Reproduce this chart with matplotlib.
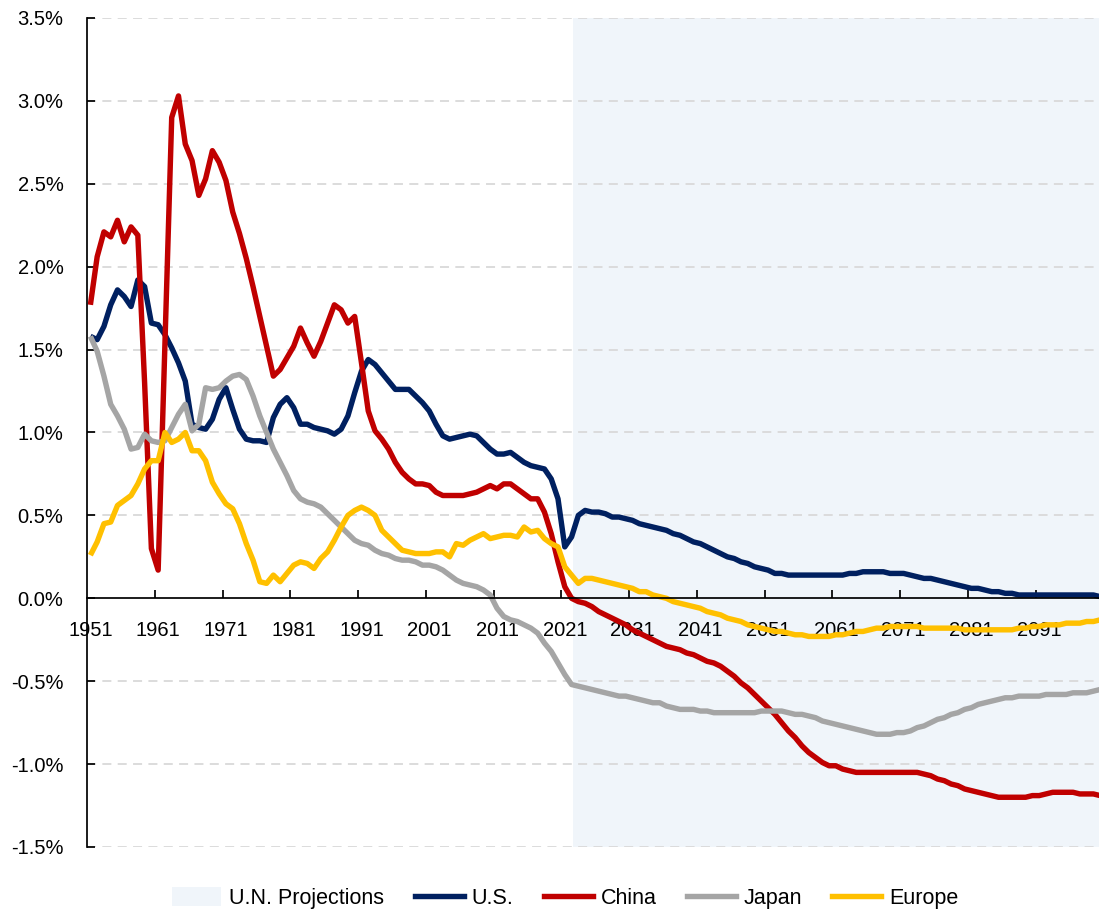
import matplotlib
matplotlib.use('Agg')
import matplotlib.pyplot as plt
import numpy as np
from matplotlib.patches import Patch
from matplotlib.lines import Line2D
from matplotlib.ticker import FuncFormatter

plt.rcParams['font.family'] = ['Liberation Sans', 'DejaVu Sans']

years = np.arange(1951, 2101)
proj_start = 2022.2

us = [
    1.58, 1.56, 1.64, 1.77, 1.86, 1.82, 1.76, 1.92, 1.88, 1.66,
    1.65, 1.59, 1.51, 1.42, 1.31, 1.05, 1.03, 1.02, 1.08, 1.20,
    1.27, 1.14, 1.02, 0.96, 0.95, 0.95, 0.94, 1.09, 1.17, 1.21,
    1.15, 1.05, 1.05, 1.03, 1.02, 1.01, 0.99, 1.02, 1.10, 1.24,
    1.37, 1.44, 1.41, 1.36, 1.31, 1.26, 1.26, 1.26, 1.22, 1.18,
    1.13, 1.05, 0.98, 0.96, 0.97, 0.98, 0.99, 0.98, 0.94, 0.90,
    0.87, 0.87, 0.88, 0.85, 0.82, 0.80, 0.79, 0.78, 0.72, 0.60,
    0.31, 0.37, 0.50, 0.53, 0.52, 0.52, 0.51, 0.49, 0.49, 0.48,
    0.47, 0.45, 0.44, 0.43, 0.42, 0.41, 0.39, 0.38, 0.36, 0.34,
    0.33, 0.31, 0.29, 0.27, 0.25, 0.24, 0.22, 0.21, 0.19, 0.18,
    0.17, 0.15, 0.15, 0.14, 0.14, 0.14, 0.14, 0.14, 0.14, 0.14,
    0.14, 0.14, 0.15, 0.15, 0.16, 0.16, 0.16, 0.16, 0.15, 0.15,
    0.15, 0.14, 0.13, 0.12, 0.12, 0.11, 0.10, 0.09, 0.08, 0.07,
    0.06, 0.06, 0.05, 0.04, 0.04, 0.03, 0.03, 0.02, 0.02, 0.02,
    0.02, 0.02, 0.02, 0.02, 0.02, 0.02, 0.02, 0.02, 0.02, 0.01]

china = [
    1.77, 2.06, 2.21, 2.18, 2.28, 2.15, 2.24, 2.19, 1.30, 0.30,
    0.17, 1.53, 2.90, 3.03, 2.74, 2.64, 2.43, 2.53, 2.70, 2.63,
    2.52, 2.33, 2.20, 2.05, 1.88, 1.70, 1.52, 1.34, 1.38, 1.45,
    1.52, 1.63, 1.54, 1.46, 1.55, 1.66, 1.77, 1.74, 1.66, 1.70,
    1.42, 1.13, 1.01, 0.96, 0.90, 0.82, 0.76, 0.72, 0.69, 0.69,
    0.68, 0.64, 0.62, 0.62, 0.62, 0.62, 0.63, 0.64, 0.66, 0.68,
    0.66, 0.69, 0.69, 0.66, 0.63, 0.60, 0.60, 0.52, 0.39, 0.22,
    0.07, 0.00, -0.02, -0.03, -0.05, -0.08, -0.10, -0.12, -0.14, -0.16,
    -0.19, -0.21, -0.23, -0.25, -0.27, -0.29, -0.30, -0.31, -0.33, -0.34,
    -0.36, -0.38, -0.39, -0.41, -0.44, -0.47, -0.51, -0.54, -0.58, -0.62,
    -0.66, -0.70, -0.75, -0.80, -0.84, -0.89, -0.93, -0.96, -0.99, -1.01,
    -1.01, -1.03, -1.04, -1.05, -1.05, -1.05, -1.05, -1.05, -1.05, -1.05,
    -1.05, -1.05, -1.05, -1.06, -1.07, -1.09, -1.10, -1.12, -1.13, -1.15,
    -1.16, -1.17, -1.18, -1.19, -1.20, -1.20, -1.20, -1.20, -1.20, -1.19,
    -1.19, -1.18, -1.17, -1.17, -1.17, -1.17, -1.18, -1.18, -1.18, -1.19]

japan = [
    1.58, 1.49, 1.34, 1.17, 1.10, 1.02, 0.90, 0.91, 0.99, 0.95,
    0.94, 0.95, 1.03, 1.11, 1.17, 1.01, 1.05, 1.27, 1.26, 1.27,
    1.31, 1.34, 1.35, 1.32, 1.22, 1.10, 1.00, 0.90, 0.82, 0.74,
    0.65, 0.60, 0.58, 0.57, 0.55, 0.51, 0.47, 0.43, 0.39, 0.35,
    0.33, 0.32, 0.29, 0.27, 0.26, 0.24, 0.23, 0.23, 0.22, 0.20,
    0.20, 0.19, 0.17, 0.14, 0.11, 0.09, 0.08, 0.07, 0.05, 0.02,
    -0.06, -0.11, -0.13, -0.14, -0.16, -0.18, -0.21, -0.27, -0.32, -0.39,
    -0.46, -0.52, -0.53, -0.54, -0.55, -0.56, -0.57, -0.58, -0.59, -0.59,
    -0.60, -0.61, -0.62, -0.63, -0.63, -0.65, -0.66, -0.67, -0.67, -0.67,
    -0.68, -0.68, -0.69, -0.69, -0.69, -0.69, -0.69, -0.69, -0.69, -0.68,
    -0.68, -0.68, -0.68, -0.69, -0.70, -0.70, -0.71, -0.72, -0.74, -0.75,
    -0.76, -0.77, -0.78, -0.79, -0.80, -0.81, -0.82, -0.82, -0.82, -0.81,
    -0.81, -0.80, -0.78, -0.77, -0.75, -0.73, -0.72, -0.70, -0.69, -0.67,
    -0.66, -0.64, -0.63, -0.62, -0.61, -0.60, -0.60, -0.59, -0.59, -0.59,
    -0.59, -0.58, -0.58, -0.58, -0.58, -0.57, -0.57, -0.57, -0.56, -0.55]

europe = [
    0.26, 0.34, 0.45, 0.46, 0.56, 0.59, 0.62, 0.69, 0.78, 0.83,
    0.83, 1.00, 0.94, 0.96, 1.00, 0.89, 0.89, 0.83, 0.70, 0.63,
    0.57, 0.54, 0.45, 0.33, 0.23, 0.10, 0.09, 0.14, 0.10, 0.15,
    0.20, 0.22, 0.21, 0.18, 0.24, 0.28, 0.35, 0.43, 0.50, 0.53,
    0.55, 0.53, 0.50, 0.41, 0.37, 0.33, 0.29, 0.28, 0.27, 0.27,
    0.27, 0.28, 0.28, 0.25, 0.33, 0.32, 0.35, 0.37, 0.39, 0.36,
    0.37, 0.38, 0.38, 0.37, 0.43, 0.40, 0.41, 0.36, 0.33, 0.31,
    0.19, 0.14, 0.09, 0.12, 0.12, 0.11, 0.10, 0.09, 0.08, 0.07,
    0.06, 0.04, 0.04, 0.02, 0.01, 0.00, -0.02, -0.03, -0.04, -0.05,
    -0.06, -0.08, -0.09, -0.10, -0.12, -0.13, -0.14, -0.16, -0.17, -0.18,
    -0.19, -0.20, -0.20, -0.21, -0.22, -0.22, -0.23, -0.23, -0.23, -0.23,
    -0.22, -0.22, -0.21, -0.20, -0.20, -0.19, -0.18, -0.18, -0.17, -0.17,
    -0.17, -0.17, -0.17, -0.18, -0.18, -0.18, -0.18, -0.18, -0.18, -0.19,
    -0.19, -0.19, -0.19, -0.19, -0.19, -0.19, -0.19, -0.18, -0.18, -0.17,
    -0.17, -0.16, -0.16, -0.16, -0.15, -0.15, -0.15, -0.14, -0.14, -0.13]

series = [(us, '#002060', 'U.S.'), (china, '#C00000', 'China'),
          (japan, '#A5A5A5', 'Japan'), (europe, '#FFC000', 'Europe')]
shade = '#F0F5FA'

fig = plt.figure(figsize=(10.99, 9.13), dpi=100)
ax = fig.add_axes([87/1099, 1-847/913, 1-87/1099, (847-18)/913])

ax.axvspan(proj_start, 2101, color=shade, lw=0, zorder=0)

ax.set_ylim(-1.5, 3.5)
yt = np.arange(-1.5, 3.51, 0.5)
ax.set_yticks(yt)
ax.yaxis.set_major_formatter(FuncFormatter(lambda v, p: f'{v:.1f}%'))
for y in yt:
    if abs(y) > 1e-9:
        ax.axhline(y, color='#D9D9D9', lw=1.3, ls=(0, (5, 3.5)), zorder=0.5)

for vals, c, lab in series:
    ax.plot(years, vals, color=c, lw=3.9, solid_joinstyle='round',
            solid_capstyle='butt', zorder=2)

ax.set_xlim(1950.5, 1950.5 + (1099-87.3)/6.775)
ax.set_xticks(np.arange(1960.5, 2100, 10))
ax.set_xticklabels([])
ax.set_xticks(np.arange(1951, 2100, 10), minor=True)
ax.set_xticklabels([str(y) for y in range(1951, 2100, 10)], minor=True)
ax.tick_params(axis='x', which='major', direction='in', length=6, width=1.25)
ax.tick_params(axis='x', which='minor', length=0, pad=16, labelsize=14.5)
ax.tick_params(axis='y', direction='in', length=6, width=1.25, pad=17, labelsize=14.5)

ax.spines['bottom'].set_position(('data', 0))
ax.spines['bottom'].set_linewidth(1.25)
ax.spines['left'].set_linewidth(1.25)
ax.spines['top'].set_visible(False)
ax.spines['right'].set_visible(False)
ax.set_facecolor('white')

handles = [Patch(facecolor=shade, edgecolor='none')]
handles += [Line2D([], [], color=c, lw=3.9) for _, c, _ in series]
labels = ['U.N. Projections'] + [lab for _, _, lab in series]
fig.legend(handles, labels, loc='center', bbox_to_anchor=(565.5/1099, 1-898/913),
           ncol=5, frameon=False, fontsize=15.5, handlelength=2.28,
           handletextpad=0.37, columnspacing=1.4, handleheight=1.0)

fig.savefig('out.png', dpi=100)
